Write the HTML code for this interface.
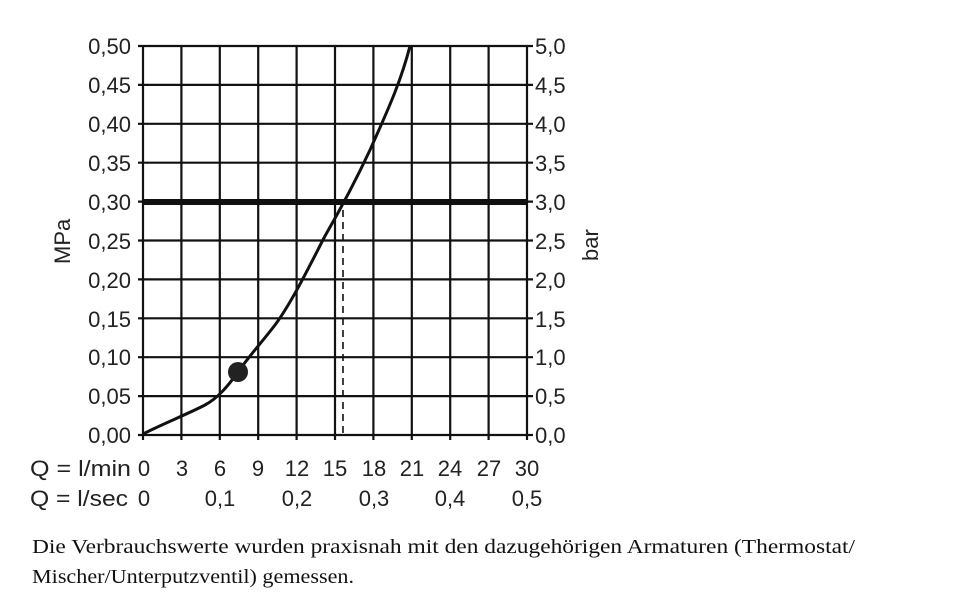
<!DOCTYPE html>
<html><head><meta charset="utf-8"><style>
body{margin:0;background:#fff;width:960px;height:612px;overflow:hidden}
svg{position:absolute;left:0;top:0}
.t{font-family:"Liberation Sans",sans-serif;font-size:22px;fill:#222}
.c{font-family:"Liberation Serif",serif;font-size:20px;fill:#111}
</style></head><body>
<svg width="960" height="612">
<g stroke="#111" stroke-width="2.2" fill="none">
<path d="M143,46H527M143,84.9H527M143,123.8H527M143,162.7H527M143,201.6H527M143,240.5H527M143,279.4H527M143,318.3H527M143,357.2H527M143,396.1H527M143,435H527"/>
<path d="M143,46V440M181.4,46V440M219.8,46V440M258.2,46V440M296.6,46V440M335,46V440M373.4,46V440M411.8,46V440M450.2,46V440M488.6,46V440M527,46V440"/>
<path d="M138,46H143M138,84.9H143M138,123.8H143M138,162.7H143M138,201.6H143M138,240.5H143M138,279.4H143M138,318.3H143M138,357.2H143M138,396.1H143M138,435H143"/>
<path d="M527,46H533M527,84.9H533M527,123.8H533M527,162.7H533M527,201.6H533M527,240.5H533M527,279.4H533M527,318.3H533M527,357.2H533M527,396.1H533M527,435H533"/>
</g>
<line x1="143" y1="202" x2="527" y2="202" stroke="#111" stroke-width="6"/>
<line x1="343" y1="210" x2="343" y2="435" stroke="#111" stroke-width="1.6" stroke-dasharray="7,5"/>
<path d="M143,434 C160,425 190,413 205,405 C218,398 228,386 238,372 C250,355 262,342 275,325 C292,302 310,265 325,236 C340,210 356,180 370,150 C385,116 400,85 410,46" stroke="#111" stroke-width="3" fill="none"/>
<circle cx="238" cy="372" r="10" fill="#222"/>
<g class="t" text-anchor="end">
<text x="131" y="54">0,50</text><text x="131" y="93">0,45</text><text x="131" y="132">0,40</text><text x="131" y="171">0,35</text><text x="131" y="210">0,30</text><text x="131" y="249">0,25</text><text x="131" y="288">0,20</text><text x="131" y="327">0,15</text><text x="131" y="365">0,10</text><text x="131" y="404">0,05</text><text x="131" y="443">0,00</text>
</g>
<g class="t">
<text x="535" y="54">5,0</text><text x="535" y="93">4,5</text><text x="535" y="132">4,0</text><text x="535" y="171">3,5</text><text x="535" y="210">3,0</text><text x="535" y="249">2,5</text><text x="535" y="288">2,0</text><text x="535" y="327">1,5</text><text x="535" y="365">1,0</text><text x="535" y="404">0,5</text><text x="535" y="443">0,0</text>
<text x="0" y="0" transform="translate(70,264) rotate(-90)">MPa</text>
<text x="0" y="0" transform="translate(598,261) rotate(-90)">bar</text>
<text x="30" y="476" textLength="101" lengthAdjust="spacingAndGlyphs">Q = l/min</text><text x="30" y="506" textLength="98" lengthAdjust="spacingAndGlyphs">Q = l/sec</text>
</g>
<g class="t" text-anchor="middle">
<text x="144" y="476">0</text><text x="182" y="476">3</text><text x="220" y="476">6</text><text x="258" y="476">9</text><text x="297" y="476">12</text><text x="335" y="476">15</text><text x="374" y="476">18</text><text x="412" y="476">21</text><text x="450" y="476">24</text><text x="489" y="476">27</text><text x="527" y="476">30</text>
<text x="144" y="506">0</text><text x="220" y="506">0,1</text><text x="297" y="506">0,2</text><text x="374" y="506">0,3</text><text x="450" y="506">0,4</text><text x="527" y="506">0,5</text>
</g>
<text class="c" x="32" y="553" textLength="823" lengthAdjust="spacingAndGlyphs">Die Verbrauchswerte wurden praxisnah mit den dazugehörigen Armaturen (Thermostat/</text>
<text class="c" x="32" y="583" textLength="322" lengthAdjust="spacingAndGlyphs">Mischer/Unterputzventil) gemessen.</text>
</svg>
</body></html>
